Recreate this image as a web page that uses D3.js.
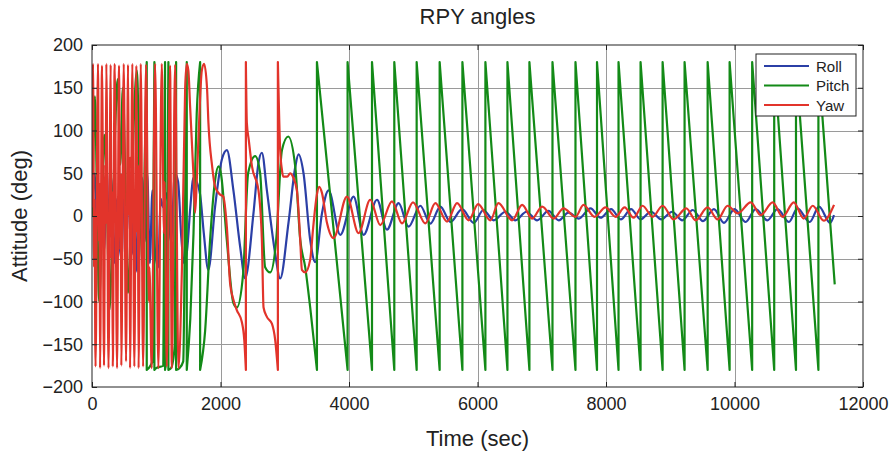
<!DOCTYPE html>
<html>
<head>
<meta charset="utf-8">
<script src="https://cdn.jsdelivr.net/npm/d3@7"></script>
<style>
body { margin: 0; background: #fff; }
text { font-family: "Liberation Sans", Arial, sans-serif; fill: #222; }
.grid line { stroke: #9a9a9a; stroke-width: 1; }
.axis line { stroke: #222; }
.axis path { display: none; }
</style>
</head>
<body>
<div id="chart"></div>
<script>
// tick labels
var xTicks = [0, 2000, 4000, 6000, 8000, 10000, 12000];
var yTicks = [-200, -150, -100, -50, 0, 50, 100, 150, 200];
var seriesNames = ["Roll", "Pitch", "Yaw"];
var seriesColors = ["#2b3fa6", "#138a17", "#e2342b"];

// [time (sec), angle (deg)]
var roll = [[0,0],[40,50],[75,-20],[110,-60],[150,30],[190,-40],[230,60],[260,-10],[300,45],[345,-55],
  [390,20],[430,-35],[460,-50],[500,40],[540,-20],[580,55],[620,-45],[660,25],[700,-65],[740,40],
  [780,45],[820,-30],[860,50],[900,-55],[940,30],[980,-40],[1030,-60],[1070,20],[1110,10],[1170,27],
  [1230,-30],[1290,50],[1340,40],[1390,-25],[1430,-55],[1480,-40],[1530,10],[1580,45],[1630,40],[1683,25],
  [1740,-20],[1810,-63],[1916,11],[2021,66],[2099,77],[2201,30],[2306,-36],[2384,-73],[2513,3],[2591,62],
  [2644,74],[2722,30],[2851,-44],[2929,-73],[3058,-8],[3163,57],[3214,72],[3292,50],[3396,-28],[3474,-54],
  [3579,3],[3682,30],[3864,-22],[4071,22.6],[4227,-22],[4436,19],[4591,-16],[4772,15],[4928,-12.5],[5110,12],
  [5266,-9],[5422,11],[5578,-7],[5760,8],[5941,-8],[6092,7],[6252,-5],[6435,5],[6590,-5],[6762,5],
  [6928,-5],[7104,6],[7265,-5],[7416,4],[7577,-3],[7759,9],[7915,-2],[8080,8],[8230,-4],[8390,8],
  [8538,-4],[8700,5],[8860,-4],[9030,5],[9188,-5],[9350,7],[9510,-6],[9680,8],[9836,-8],[10000,8],
  [10174,-7],[10330,8],[10512,-5],[10668,8],[10848,-7],[10979,9],[11170,-7],[11316,11],[11488,-8],[11549,1]];

var pitch = [[0,0],[20,70],[45,140],[80,10],[110,-100],[150,-20],[190,95],[230,30],[270,-110],[310,-40],
  [360,100],[400,160],[440,60],[480,150],[520,40],[560,-90],[600,-20],[650,110],[700,170],[740,40],
  [790,-60],[820,60],[852,180],[852,-180],[880,-178],[940,-170],[960,60],[971,180],[971,-180],[1000,-178],
  [1110,-175],[1125,40],[1137,180],[1137,-180],[1150,-170],[1178,60],[1189,180],[1189,-180],[1230,-178],[1290,-150],
  [1300,60],[1309,180],[1309,-180],[1360,-178],[1420,-170],[1455,60],[1475,180],[1475,-180],[1530,-120],[1580,-20],
  [1630,120],[1683,180],[1683,-180],[1761,-134],[1838,-28],[1916,42],[1968,58],[2010,48],[2098,-28],[2201,-102],
  [2254,-107],[2353,-67],[2430,50],[2540,70],[2617,50],[2695,-60],[2773,-66],[2867,-28],[2956,77],[3054,93],
  [3163,58],[3241,-28],[3319,-60],[3396,-107],[3474,-161],[3501,-180],[3501,180],[3978,-180],[3978,180],[4358,-180],
  [4358,180],[4705,-180],[4705,180],[5053,-180],[5053,180],[5411,-180],[5411,180],[5765,-180],[5765,180],[6123,-180],
  [6123,180],[6466,-180],[6466,180],[6808,-180],[6808,180],[7167,-180],[7167,180],[7525,-180],[7525,180],[7860,-180],
  [7860,180],[8195,-180],[8195,180],[8538,-180],[8538,180],[8881,-180],[8881,180],[9223,-180],[9223,180],[9582,-180],
  [9582,180],[9924,-180],[9924,180],[10275,-180],[10275,180],[10618,-180],[10618,180],[10957,-180],[10957,180],[11306,-180],
  [11306,180],[11560,-80]];

var yaw = [[0,10],[16,178],[32,-60],[38,20],[55,-176],[93,178],[110,-30],[116,40],[125,-178],[156,176],
  [187,-175],[205,60],[211,-10],[223,178],[257,-178],[291,177],[305,-50],[311,30],[323,-176],[353,178],
  [390,-178],[421,176],[440,-40],[446,50],[456,-175],[494,178],[530,-170],[561,177],[575,0],[581,70],
  [592,-178],[628,178],[659,-176],[690,176],[706,-20],[712,60],[725,-178],[759,178],[795,-176],[841,177],
  [885,-100],[893,-60],[930,-178],[982,178],[1033,-178],[1086,178],[1120,-20],[1130,40],[1164,-176],[1215,176],
  [1242,-178],[1293,177],[1345,-178],[1400,-60],[1450,150],[1475,178],[1500,170],[1527,128],[1578,50],[1605,4],
  [1630,40],[1656,89],[1709,170],[1745,178],[1790,150],[1812,109],[1870,58],[1916,34],[1994,25],[2041,23],
  [2099,-13],[2150,-79],[2201,-98],[2254,-110],[2332,-124],[2370,-145],[2395,-180],[2395,180],[2410,109],[2440,89],
  [2490,58],[2591,30],[2644,-28],[2670,-107],[2722,-118],[2800,-126],[2851,-145],[2893,-180],[2893,180],[2929,77],
  [2956,54],[2976,46],[3038,46],[3085,50],[3132,45],[3189,30],[3241,-28],[3267,-63],[3319,-66],[3396,-51],
  [3443,-13],[3500,25],[3537,34],[3579,27],[3657,-8],[3759,-26],[3968,22.6],[4149,-20],[4331,19],[4487,-10.6],
  [4669,17],[4825,-8.6],[4996,16],[5188,-8.6],[5344,15],[5526,-6.6],[5682,15],[5863,-5],[6010,14],[6201,-5],
  [6325,15],[6539,-5],[6695,13],[6851,-3],[7006,11],[7187,-3],[7338,9],[7525,-1],[7650,13],[7821,-1],
  [7993,10],[8150,-1],[8290,10],[8430,-2],[8569,12],[8725,-1],[8881,12],[9052,-4],[9250,9],[9395,-5],
  [9582,10],[9738,-4],[9893,12],[10049,3],[10252,16],[10408,1],[10594,16],[10750,-1],[10922,16],[11077,-3],
  [11218,12],[11389,-5.5],[11549,13]];

var width = 896, height = 454;
var margin = {top: 45, right: 33, bottom: 67, left: 92};
var plotW = width - margin.left - margin.right,
    plotH = height - margin.top - margin.bottom;

var svg = d3.select("#chart").append("svg")
  .attr("width", width)
  .attr("height", height);

var x = d3.scaleLinear().domain([0, 12000]).range([0, plotW]);
var y = d3.scaleLinear().domain([-200, 200]).range([plotH, 0]);

var g = svg.append("g")
  .attr("transform", "translate(" + margin.left + "," + margin.top + ")");

// grid
var grid = g.append("g").attr("class", "grid");
grid.selectAll(".gx").data(xTicks.slice(1, -1)).enter().append("line")
  .attr("x1", function(d) { return Math.round(x(d)) + 0.5; })
  .attr("x2", function(d) { return Math.round(x(d)) + 0.5; })
  .attr("y1", 0).attr("y2", plotH);
grid.selectAll(".gy").data(yTicks.slice(1, -1)).enter().append("line")
  .attr("y1", function(d) { return Math.round(y(d)) + 0.5; })
  .attr("y2", function(d) { return Math.round(y(d)) + 0.5; })
  .attr("x1", 0).attr("x2", plotW);

// lines, split at the +-180 wraps so they stay vertical
var line = d3.line()
  .x(function(d) { return x(d[0]); })
  .y(function(d) { return y(d[1]); })
  .curve(d3.curveMonotoneX);

function wrapPath(pts) {
  var segs = [[pts[0]]];
  for (var i = 1; i < pts.length; i++) {
    if (pts[i][0] === pts[i - 1][0]) segs.push([pts[i]]);
    else segs[segs.length - 1].push(pts[i]);
  }
  return segs.map(function(s, i) {
    var p = s.length > 1 ? line(s) : "M" + x(s[0][0]) + "," + y(s[0][1]);
    return i ? p.replace(/^M/, "L") : p;
  }).join("");
}

g.append("clipPath").attr("id", "clip").append("rect")
  .attr("width", plotW).attr("height", plotH);

var lines = g.append("g").attr("clip-path", "url(#clip)");
[roll, pitch, yaw].forEach(function(s, i) {
  lines.append("path")
    .attr("d", wrapPath(s))
    .attr("fill", "none")
    .attr("stroke", seriesColors[i])
    .attr("stroke-width", 2.2)
    .attr("stroke-linejoin", "round");
});

// axes with inside ticks on all four sides
g.append("g").attr("class", "axis")
  .attr("transform", "translate(0," + plotH + ")")
  .call(d3.axisBottom(x).tickValues(xTicks).tickSize(-5).tickPadding(10).tickFormat(d3.format("d")))
  .selectAll("text").style("font-size", "18px");
g.append("g").attr("class", "axis")
  .call(d3.axisTop(x).tickValues(xTicks).tickSize(-5).tickFormat(""));
g.append("g").attr("class", "axis")
  .call(d3.axisLeft(y).tickValues(yTicks).tickSize(-5).tickPadding(9))
  .selectAll("text").style("font-size", "18px");
g.append("g").attr("class", "axis")
  .attr("transform", "translate(" + plotW + ",0)")
  .call(d3.axisRight(y).tickValues(yTicks).tickSize(-5).tickFormat(""));

g.append("rect")
  .attr("width", plotW).attr("height", plotH)
  .attr("fill", "none").attr("stroke", "#222").attr("stroke-width", 1);

// legend
var leg = g.append("g").attr("transform", "translate(" + (plotW - 107) + ",9)");
leg.append("rect")
  .attr("width", 100).attr("height", 62)
  .attr("fill", "#fff").attr("stroke", "#222");
seriesNames.forEach(function(name, i) {
  var ly = 12 + i * 19.5;
  leg.append("line")
    .attr("x1", 8).attr("x2", 53).attr("y1", ly).attr("y2", ly)
    .attr("stroke", seriesColors[i]).attr("stroke-width", 2);
  leg.append("text")
    .attr("x", 60).attr("y", ly + 5.5)
    .style("font-size", "15px")
    .text(name);
});

// titles
svg.append("text")
  .attr("x", margin.left + plotW / 2).attr("y", 24)
  .attr("text-anchor", "middle")
  .style("font-size", "22px")
  .text("RPY angles");
svg.append("text")
  .attr("x", margin.left + plotW / 2).attr("y", 446)
  .attr("text-anchor", "middle")
  .style("font-size", "22px")
  .text("Time (sec)");
svg.append("text")
  .attr("transform", "translate(27," + (margin.top + plotH / 2) + ") rotate(-90)")
  .attr("text-anchor", "middle")
  .style("font-size", "22px")
  .text("Attitude (deg)");
</script>
</body>
</html>
